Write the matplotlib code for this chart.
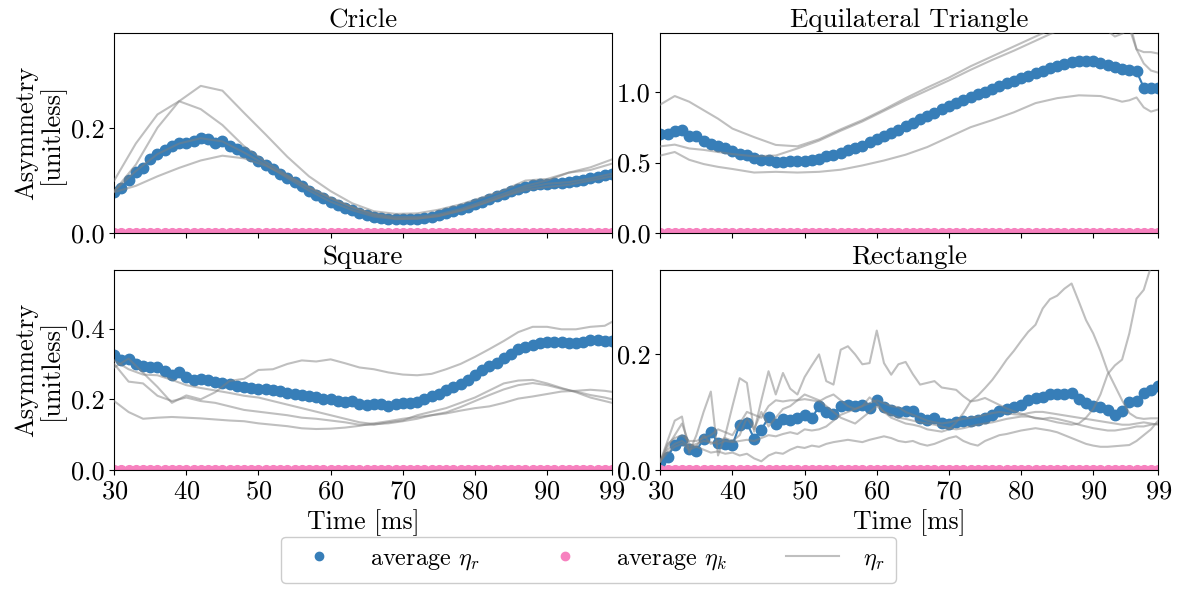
import numpy as np
import matplotlib
matplotlib.use("Agg")
import matplotlib.pyplot as plt
from matplotlib.lines import Line2D

plt.rcParams['font.family'] = ['cmr10', 'DejaVu Serif']
plt.rcParams['mathtext.fontset'] = 'cm'
plt.rcParams['axes.formatter.use_mathtext'] = True
plt.rcParams['axes.unicode_minus'] = False

# time axis of the averaged curves [ms]
time = list(range(30, 100))

titles = ['Cricle', 'Equilateral Triangle', 'Square', 'Rectangle']

# ---- average eta_r (blue dots) ----
avg_circle = [0.079, 0.086, 0.102, 0.116, 0.124, 0.141, 0.151, 0.157, 0.166, 0.171,
              0.171, 0.175, 0.181, 0.178, 0.171, 0.175, 0.166, 0.159, 0.154, 0.146,
              0.137, 0.130, 0.122, 0.113, 0.105, 0.097, 0.089, 0.081, 0.073, 0.067,
              0.060, 0.054, 0.049, 0.044, 0.039, 0.035, 0.032, 0.030, 0.028, 0.027,
              0.027, 0.027, 0.028, 0.030, 0.032, 0.035, 0.038, 0.042, 0.046, 0.050,
              0.055, 0.060, 0.065, 0.070, 0.075, 0.080, 0.084, 0.088, 0.091, 0.093,
              0.094, 0.095, 0.096, 0.097, 0.099, 0.101, 0.104, 0.107, 0.110, 0.112]
avg_triangle = [0.70, 0.70, 0.725, 0.73, 0.69, 0.685, 0.655, 0.63, 0.615, 0.605,
                0.58, 0.56, 0.557, 0.535, 0.52, 0.515, 0.507, 0.503, 0.508, 0.508,
                0.51, 0.52, 0.527, 0.545, 0.557, 0.57, 0.59, 0.603, 0.62, 0.643,
                0.667, 0.69, 0.71, 0.733, 0.757, 0.78, 0.805, 0.828, 0.852, 0.876,
                0.898, 0.918, 0.94, 0.96, 0.982, 1.0, 1.02, 1.038, 1.06, 1.077,
                1.095, 1.113, 1.132, 1.148, 1.165, 1.183, 1.198, 1.21, 1.218, 1.22,
                1.215, 1.205, 1.19, 1.175, 1.163, 1.157, 1.145, 1.03, 1.025, 1.028]
avg_square = [0.325, 0.312, 0.315, 0.301, 0.294, 0.292, 0.290, 0.280, 0.270, 0.277,
              0.263, 0.256, 0.258, 0.254, 0.249, 0.246, 0.242, 0.238, 0.235, 0.232,
              0.230, 0.230, 0.225, 0.223, 0.219, 0.216, 0.213, 0.209, 0.206, 0.202,
              0.202, 0.194, 0.192, 0.194, 0.188, 0.183, 0.188, 0.186, 0.180, 0.186,
              0.190, 0.190, 0.192, 0.202, 0.208, 0.214, 0.227, 0.235, 0.242, 0.254,
              0.268, 0.282, 0.293, 0.303, 0.318, 0.329, 0.341, 0.348, 0.353, 0.360,
              0.362, 0.362, 0.361, 0.359, 0.358, 0.362, 0.367, 0.369, 0.365, 0.364]
avg_rectangle = [0.014, 0.023, 0.043, 0.052, 0.037, 0.033, 0.054, 0.066, 0.046, 0.045,
                 0.043, 0.078, 0.081, 0.054, 0.069, 0.091, 0.079, 0.088, 0.086, 0.090,
                 0.094, 0.089, 0.110, 0.100, 0.096, 0.110, 0.112, 0.111, 0.112, 0.107,
                 0.121, 0.108, 0.104, 0.100, 0.102, 0.101, 0.090, 0.086, 0.090, 0.081,
                 0.079, 0.082, 0.084, 0.084, 0.086, 0.090, 0.095, 0.101, 0.105, 0.108,
                 0.112, 0.121, 0.124, 0.125, 0.130, 0.131, 0.131, 0.133, 0.123, 0.115,
                 0.110, 0.108, 0.104, 0.095, 0.101, 0.117, 0.119, 0.133, 0.138, 0.144]

# ---- average eta_k (pink dots), essentially zero ----
avg_k_level = [0.0, 0.0, 0.0, 0.0]

# ---- individual eta_r runs (gray lines) ----
t_circle = [30, 33, 36, 39, 42, 45, 48, 51, 54, 57, 60, 63, 66, 69, 72, 75, 78, 81, 84, 87, 90, 93, 96, 99]
circle_runs = [
    [0.08, 0.13, 0.20, 0.25, 0.279, 0.27, 0.228, 0.187, 0.145, 0.108, 0.08, 0.057,
     0.042, 0.037, 0.038, 0.045, 0.055, 0.068, 0.082, 0.10, 0.103, 0.115, 0.12, 0.132],
    [0.10, 0.17, 0.225, 0.25, 0.235, 0.205, 0.165, 0.135, 0.11, 0.088, 0.068, 0.05,
     0.037, 0.031, 0.031, 0.036, 0.046, 0.06, 0.075, 0.09, 0.10, 0.115, 0.125, 0.14],
    [0.078, 0.09, 0.108, 0.124, 0.138, 0.147, 0.142, 0.128, 0.108, 0.086, 0.066, 0.049,
     0.035, 0.028, 0.028, 0.033, 0.043, 0.056, 0.07, 0.082, 0.088, 0.092, 0.10, 0.108],
    [0.08, 0.118, 0.15, 0.17, 0.18, 0.174, 0.153, 0.13, 0.105, 0.081, 0.06, 0.044,
     0.032, 0.027, 0.028, 0.033, 0.043, 0.056, 0.071, 0.086, 0.094, 0.097, 0.104, 0.113],
]

t_triangle = [30, 32, 34, 36, 38, 40, 43, 46, 49, 52, 55, 58, 61, 64, 67, 70, 73, 76, 79, 82,
              85, 88, 91, 93, 94, 95, 96, 97, 98, 99]
triangle_runs = [
    [0.91, 0.97, 0.93, 0.87, 0.81, 0.74, 0.68, 0.625, 0.615, 0.665, 0.735, 0.80, 0.875, 0.955, 1.03,
     1.10, 1.18, 1.25, 1.32, 1.39, 1.46, 1.52, 1.56, 1.57, 1.56, 1.50, 1.30, 1.20, 1.15, 1.135],
    [0.615, 0.627, 0.60, 0.59, 0.575, 0.56, 0.545, 0.55, 0.60, 0.655, 0.725, 0.79, 0.865, 0.94, 1.01,
     1.08, 1.155, 1.225, 1.29, 1.36, 1.43, 1.49, 1.47, 1.39, 1.41, 1.45, 1.30, 1.28, 1.28, 1.27],
    [0.55, 0.575, 0.52, 0.49, 0.47, 0.455, 0.43, 0.435, 0.43, 0.435, 0.45, 0.48, 0.515, 0.556, 0.61,
     0.68, 0.75, 0.80, 0.855, 0.92, 0.955, 0.975, 0.97, 0.945, 0.93, 0.94, 0.96, 0.89, 0.86, 0.875],
]

t_square = [30, 32, 34, 36, 38, 40, 42, 44, 46, 48, 50, 52, 54, 56, 58, 60, 62, 64,
            66, 68, 70, 72, 74, 76, 78, 80, 82, 84, 86, 88, 90, 92, 94, 96, 98, 99]
square_runs = [
    [0.29, 0.315, 0.275, 0.235, 0.19, 0.211, 0.20, 0.22, 0.252, 0.258, 0.283, 0.285, 0.30, 0.31,
     0.307, 0.313, 0.302, 0.29, 0.285, 0.276, 0.27, 0.268, 0.272, 0.285, 0.30, 0.32, 0.342, 0.365,
     0.39, 0.405, 0.405, 0.398, 0.398, 0.405, 0.408, 0.419],
    [0.30, 0.25, 0.245, 0.21, 0.195, 0.205, 0.195, 0.19, 0.18, 0.17, 0.165, 0.16, 0.155, 0.148,
     0.145, 0.14, 0.135, 0.128, 0.128, 0.135, 0.14, 0.155, 0.165, 0.175, 0.19, 0.205, 0.225, 0.245,
     0.253, 0.255, 0.245, 0.232, 0.22, 0.205, 0.195, 0.19],
    [0.195, 0.164, 0.145, 0.148, 0.15, 0.148, 0.146, 0.143, 0.14, 0.138, 0.132, 0.128, 0.124, 0.118,
     0.116, 0.117, 0.12, 0.125, 0.132, 0.138, 0.145, 0.15, 0.155, 0.16, 0.168, 0.175, 0.18, 0.19,
     0.202, 0.208, 0.215, 0.222, 0.224, 0.227, 0.224, 0.221],
    [0.31, 0.285, 0.27, 0.268, 0.255, 0.24, 0.232, 0.225, 0.218, 0.21, 0.205, 0.195, 0.185, 0.175,
     0.165, 0.155, 0.145, 0.135, 0.13, 0.132, 0.138, 0.145, 0.155, 0.163, 0.178, 0.195, 0.212, 0.228,
     0.24, 0.246, 0.24, 0.23, 0.222, 0.212, 0.205, 0.20],
]

t_rectangle = time
rectangle_runs = [
    [0.015, 0.05, 0.085, 0.092, 0.03, 0.06, 0.10, 0.135, 0.025, 0.06,
     0.11, 0.158, 0.15, 0.066, 0.12, 0.17, 0.13, 0.167, 0.14, 0.13,
     0.16, 0.18, 0.199, 0.153, 0.147, 0.207, 0.213, 0.199, 0.182, 0.184,
     0.24, 0.184, 0.164, 0.182, 0.186, 0.165, 0.147, 0.15, 0.153, 0.142,
     0.14, 0.138, 0.127, 0.118, 0.12, 0.124, 0.118, 0.112, 0.106, 0.101,
     0.097, 0.093, 0.089, 0.088, 0.09, 0.088, 0.085, 0.082, 0.078, 0.075,
     0.072, 0.07, 0.068, 0.068, 0.07, 0.072, 0.075, 0.075, 0.078, 0.08],
    [0.015, 0.04, 0.06, 0.08, 0.045, 0.04, 0.06, 0.045, 0.05, 0.055,
     0.05, 0.06, 0.09, 0.07, 0.10, 0.075, 0.09, 0.105, 0.11, 0.12,
     0.13, 0.125, 0.12, 0.11, 0.10, 0.09, 0.085, 0.08, 0.09, 0.10,
     0.11, 0.10, 0.09, 0.085, 0.08, 0.078, 0.075, 0.07, 0.068, 0.066,
     0.07, 0.082, 0.098, 0.118, 0.128, 0.141, 0.155, 0.172, 0.19, 0.205,
     0.222, 0.238, 0.25, 0.278, 0.294, 0.30, 0.312, 0.321, 0.29, 0.258,
     0.235, 0.205, 0.17, 0.145, 0.12, 0.098, 0.09, 0.088, 0.089, 0.089],
    [0.015, 0.035, 0.045, 0.05, 0.04, 0.045, 0.05, 0.048, 0.045, 0.05,
     0.048, 0.05, 0.052, 0.05, 0.055, 0.06, 0.058, 0.062, 0.065, 0.062,
     0.07, 0.068, 0.07, 0.075, 0.085, 0.095, 0.10, 0.105, 0.11, 0.125,
     0.115, 0.10, 0.095, 0.09, 0.088, 0.085, 0.082, 0.08, 0.078, 0.075,
     0.072, 0.07, 0.072, 0.075, 0.078, 0.08, 0.082, 0.085, 0.088, 0.09,
     0.092, 0.092, 0.09, 0.088, 0.085, 0.082, 0.08, 0.078, 0.08, 0.09,
     0.105, 0.13, 0.165, 0.18, 0.19, 0.235, 0.295, 0.31, 0.35, 0.40],
    [0.015, 0.03, 0.04, 0.045, 0.035, 0.04, 0.035, 0.03, 0.032, 0.028,
     0.03, 0.025, 0.028, 0.02, 0.015, 0.025, 0.03, 0.028, 0.035, 0.04,
     0.038, 0.042, 0.04, 0.045, 0.048, 0.05, 0.052, 0.05, 0.048, 0.052,
     0.055, 0.058, 0.055, 0.05, 0.048, 0.05, 0.045, 0.042, 0.045, 0.05,
     0.055, 0.058, 0.05, 0.045, 0.042, 0.05, 0.055, 0.06, 0.062, 0.065,
     0.068, 0.07, 0.072, 0.07, 0.068, 0.065, 0.06, 0.055, 0.05, 0.045,
     0.042, 0.04, 0.04, 0.041, 0.042, 0.043, 0.05, 0.06, 0.07, 0.085],
    [0.015, 0.045, 0.055, 0.06, 0.05, 0.05, 0.055, 0.06, 0.07, 0.065,
     0.06, 0.08, 0.10, 0.095, 0.09, 0.11, 0.12, 0.118, 0.12, 0.12,
     0.122, 0.12, 0.118, 0.125, 0.13, 0.12, 0.11, 0.105, 0.11, 0.115,
     0.12, 0.115, 0.11, 0.108, 0.10, 0.095, 0.09, 0.085, 0.082, 0.08,
     0.082, 0.085, 0.088, 0.09, 0.092, 0.095, 0.098, 0.10, 0.098, 0.096,
     0.095, 0.098, 0.10, 0.10, 0.098, 0.096, 0.094, 0.092, 0.09, 0.088,
     0.086, 0.084, 0.082, 0.08, 0.078, 0.078, 0.08, 0.082, 0.08, 0.078],
]

avg_all = [avg_circle, avg_triangle, avg_square, avg_rectangle]
runs_all = [(t_circle, circle_runs), (t_triangle, triangle_runs),
            (t_square, square_runs), (t_rectangle, rectangle_runs)]
ylims = [0.379, 1.415, 0.567, 0.345]
yticks = [[0.0, 0.2], [0.0, 0.5, 1.0], [0.0, 0.2, 0.4], [0.0, 0.2]]

blue = '#377eb8'
pink = '#f781bf'

fig, axes = plt.subplots(2, 2, figsize=(11.77, 5.89), dpi=100, sharex=True)
fig.subplots_adjust(left=0.097, right=0.984, top=0.944, bottom=0.202, wspace=0.097, hspace=0.18)

for i, ax in enumerate(axes.flat):
    ax.plot(time, avg_all[i], color=blue, marker='o', ms=7.5, lw=1.5, zorder=2)
    ax.plot(time, np.full(len(time), avg_k_level[i]), color=pink, marker='o', ms=7,
            lw=1.5, zorder=2)
    tg, runs = runs_all[i]
    for r in runs:
        ax.plot(tg, r, color='gray', alpha=0.5, lw=1.5, zorder=3)
    ax.set_title(titles[i], fontsize=19.5, pad=4)
    ax.set_xlim(30, 99)
    ax.set_ylim(0, ylims[i])
    ax.set_yticks(yticks[i])
    ax.set_yticklabels(['%.1f' % v for v in yticks[i]])
    ax.set_xticks([30, 40, 50, 60, 70, 80, 90, 99])
    ax.tick_params(labelsize=19)
    if i % 2 == 0:
        ax.set_ylabel('Asymmetry\n[unitless]', fontsize=19, labelpad=4, linespacing=1.0)
    if i >= 2:
        ax.set_xlabel('Time [ms]', fontsize=18.5, labelpad=4)

handles = [Line2D([], [], color=blue, marker='o', ls='none', ms=6),
           Line2D([], [], color=pink, marker='o', ls='none', ms=6),
           Line2D([], [], color='gray', alpha=0.5, lw=1.5)]
labels = [r'average $\eta_r$', r'average $\eta_k$', r'$\eta_r$']
fig.legend(handles, labels, loc='lower center', bbox_to_anchor=(0.5, 0.0), ncol=3,
           fontsize=17.5, handlelength=2.2, columnspacing=2.4, handletextpad=1.0,
           framealpha=1, borderpad=0.45, borderaxespad=0.25)

plt.savefig('out.png', dpi=100)
